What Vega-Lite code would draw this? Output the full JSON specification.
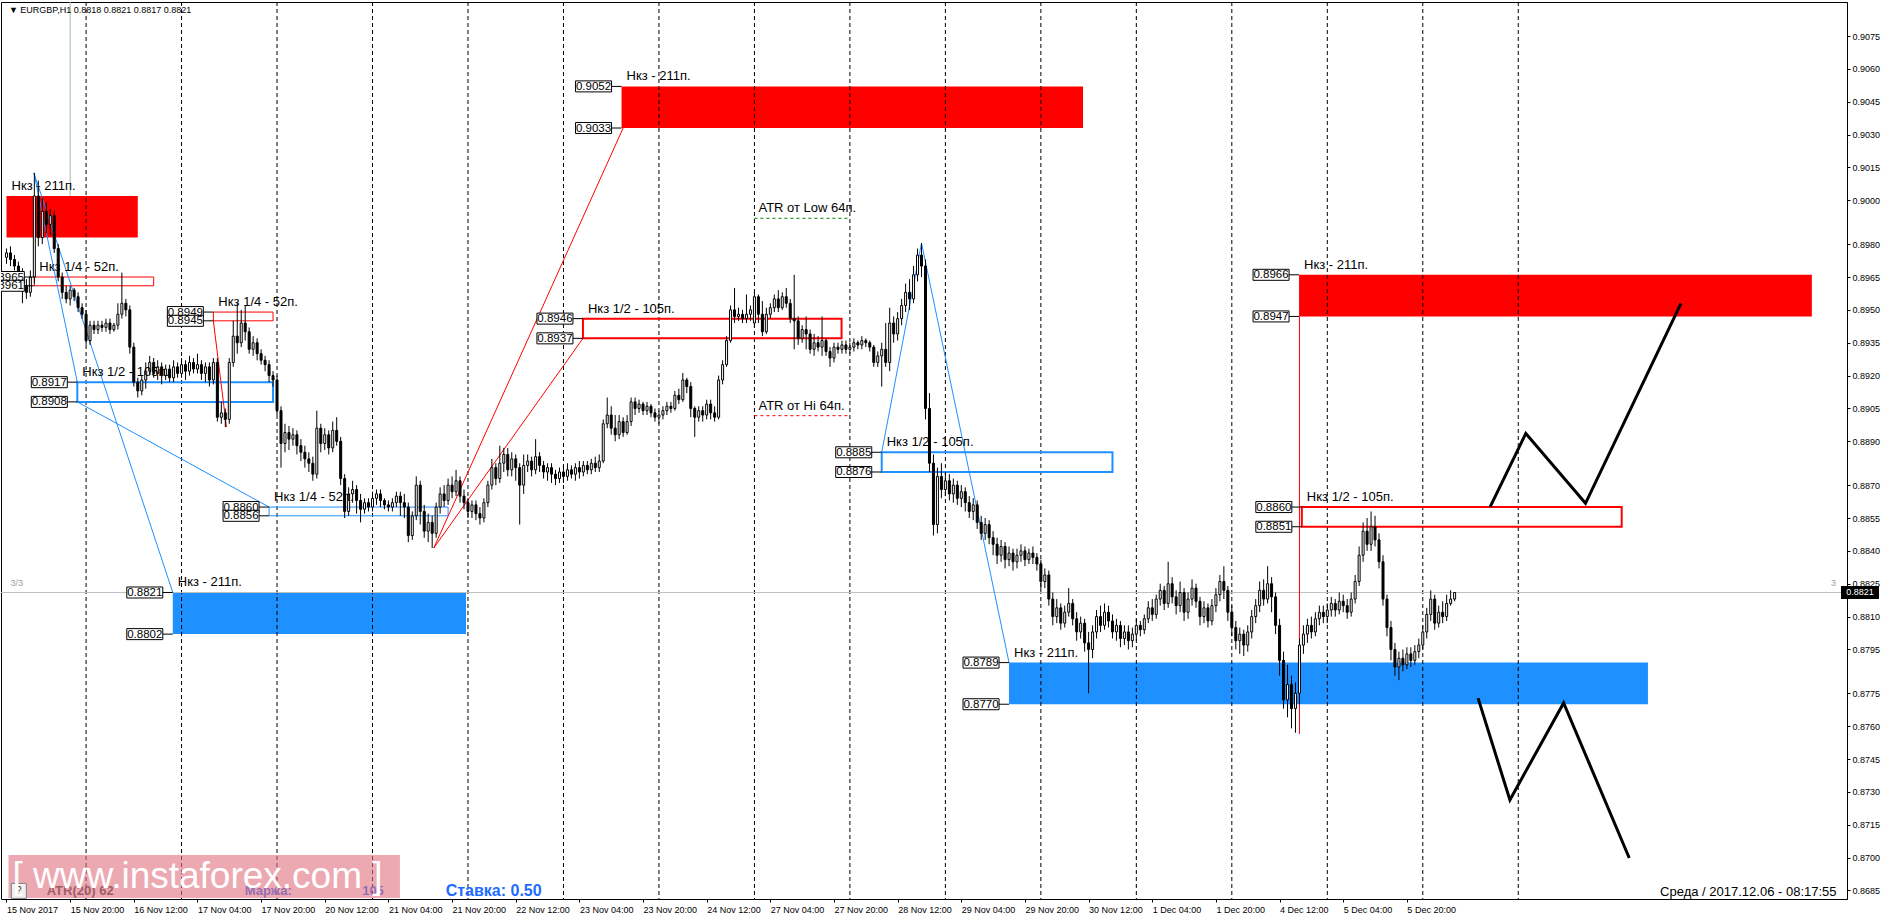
{
"$schema": "https://vega.github.io/schema/vega-lite/v6.json",
"width": 1846, "height": 897,
"autosize": {"type": "none"},
"padding": {"left": 1, "top": 2, "right": 41, "bottom": 25},
"background": "#ffffff",
"config": {"view": {"stroke": "#000000", "strokeWidth": 1}, "font": "Liberation Sans",
  "axis": {"labelColor": "#000000", "tickColor": "#000000", "domainColor": "#000000", "labelFont": "Liberation Sans", "labelFontSize": 9, "grid": false}},
"resolve": {"axis": {"x": "independent", "y": "independent"}},
"datasets": {
"candles": [
{"x":0,"o":0.8974,"h":0.8978,"l":0.8971,"c":0.8976},{"x":1,"o":0.8976,"h":0.8979,"l":0.8970,"c":0.8973},{"x":2,"o":0.8973,"h":0.8975,"l":0.8968,"c":0.8970},{"x":3,"o":0.8970,"h":0.8972,"l":0.8964,"c":0.8967},{"x":4,"o":0.8967,"h":0.8969,"l":0.8953,"c":0.8961},{"x":5,"o":0.8961,"h":0.8964,"l":0.8955,"c":0.8958},{"x":6,"o":0.8958,"h":0.8968,"l":0.8956,"c":0.8965},{"x":7,"o":0.8965,"h":0.90125,"l":0.8962,"c":0.9002},{"x":8,"o":0.9002,"h":0.9009,"l":0.8979,"c":0.8983},{"x":9,"o":0.8983,"h":0.9001,"l":0.8980,"c":0.8995},
{"x":10,"o":0.8995,"h":0.8999,"l":0.8985,"c":0.8989},{"x":11,"o":0.8989,"h":0.8996,"l":0.8984,"c":0.8993},{"x":12,"o":0.8993,"h":0.8995,"l":0.8976,"c":0.8978},{"x":13,"o":0.8978,"h":0.8980,"l":0.8963,"c":0.8965},{"x":14,"o":0.8965,"h":0.8967,"l":0.8955,"c":0.8958},{"x":15,"o":0.8958,"h":0.8961,"l":0.8953,"c":0.8955},{"x":16,"o":0.8955,"h":0.8961,"l":0.8952,"c":0.8959},{"x":17,"o":0.8959,"h":0.8960,"l":0.8954,"c":0.8956},{"x":18,"o":0.8956,"h":0.8958,"l":0.8949,"c":0.8951},{"x":19,"o":0.8951,"h":0.8953,"l":0.8946,"c":0.8948},
{"x":20,"o":0.8948,"h":0.8950,"l":0.8934,"c":0.8936},{"x":21,"o":0.8936,"h":0.8945,"l":0.8934,"c":0.8943},{"x":22,"o":0.8943,"h":0.8945,"l":0.8939,"c":0.8941},{"x":23,"o":0.8941,"h":0.8945,"l":0.8939,"c":0.8943},{"x":24,"o":0.8943,"h":0.8945,"l":0.8940,"c":0.8942},{"x":25,"o":0.8942,"h":0.8946,"l":0.8940,"c":0.8944},{"x":26,"o":0.8944,"h":0.8946,"l":0.8939,"c":0.8941},{"x":27,"o":0.8941,"h":0.8944,"l":0.8940,"c":0.8943},{"x":28,"o":0.8943,"h":0.8953,"l":0.8941,"c":0.8948},{"x":29,"o":0.8948,"h":0.8967,"l":0.8946,"c":0.8953},
{"x":30,"o":0.8953,"h":0.8955,"l":0.8947,"c":0.8950},{"x":31,"o":0.8950,"h":0.8952,"l":0.8930,"c":0.8933},{"x":32,"o":0.8933,"h":0.8935,"l":0.8915,"c":0.8917},{"x":33,"o":0.8917,"h":0.8919,"l":0.8910,"c":0.8913},{"x":34,"o":0.8913,"h":0.8920,"l":0.8911,"c":0.8918},{"x":35,"o":0.8918,"h":0.8926,"l":0.8914,"c":0.8922},{"x":36,"o":0.8922,"h":0.8929,"l":0.8920,"c":0.8926},{"x":37,"o":0.8926,"h":0.8928,"l":0.8919,"c":0.8921},{"x":38,"o":0.8921,"h":0.8927,"l":0.8918,"c":0.8924},{"x":39,"o":0.8924,"h":0.8926,"l":0.8916,"c":0.8920},
{"x":40,"o":0.8920,"h":0.8925,"l":0.8918,"c":0.8923},{"x":41,"o":0.8923,"h":0.8925,"l":0.8917,"c":0.8919},{"x":42,"o":0.8919,"h":0.8927,"l":0.8917,"c":0.8924},{"x":43,"o":0.8924,"h":0.8926,"l":0.8919,"c":0.8921},{"x":44,"o":0.8921,"h":0.8928,"l":0.8919,"c":0.8925},{"x":45,"o":0.8925,"h":0.8927,"l":0.8918,"c":0.8922},{"x":46,"o":0.8922,"h":0.8929,"l":0.8920,"c":0.8926},{"x":47,"o":0.8926,"h":0.8928,"l":0.8921,"c":0.8923},{"x":48,"o":0.8923,"h":0.8930,"l":0.8921,"c":0.8925},{"x":49,"o":0.8925,"h":0.8927,"l":0.8918,"c":0.8921},
{"x":50,"o":0.8921,"h":0.8926,"l":0.8917,"c":0.8924},{"x":51,"o":0.8924,"h":0.8926,"l":0.8915,"c":0.8918},{"x":52,"o":0.8918,"h":0.8928,"l":0.8916,"c":0.8926},{"x":53,"o":0.8926,"h":0.8928,"l":0.8899,"c":0.8901},{"x":54,"o":0.8901,"h":0.8908,"l":0.8898,"c":0.8903},{"x":55,"o":0.8903,"h":0.8905,"l":0.88965,"c":0.8900},{"x":56,"o":0.8900,"h":0.8928,"l":0.8898,"c":0.8926},{"x":57,"o":0.8926,"h":0.8945,"l":0.8924,"c":0.8938},{"x":58,"o":0.8938,"h":0.8953,"l":0.8930,"c":0.8935},{"x":59,"o":0.8935,"h":0.8950,"l":0.8933,"c":0.8944},
{"x":60,"o":0.8944,"h":0.8952,"l":0.8936,"c":0.8940},{"x":61,"o":0.8940,"h":0.8942,"l":0.8930,"c":0.8932},{"x":62,"o":0.8932,"h":0.8938,"l":0.8929,"c":0.8935},{"x":63,"o":0.8935,"h":0.8937,"l":0.8927,"c":0.8930},{"x":64,"o":0.8930,"h":0.8932,"l":0.8925,"c":0.8927},{"x":65,"o":0.8927,"h":0.8929,"l":0.8922,"c":0.8925},{"x":66,"o":0.8925,"h":0.8927,"l":0.8917,"c":0.8920},{"x":67,"o":0.8920,"h":0.8922,"l":0.8915,"c":0.8918},{"x":68,"o":0.8918,"h":0.8920,"l":0.8902,"c":0.8904},{"x":69,"o":0.8904,"h":0.8906,"l":0.8878,"c":0.8889},
{"x":70,"o":0.8889,"h":0.8898,"l":0.8885,"c":0.8894},{"x":71,"o":0.8894,"h":0.8897,"l":0.8886,"c":0.8891},{"x":72,"o":0.8891,"h":0.8896,"l":0.8888,"c":0.8893},{"x":73,"o":0.8893,"h":0.8895,"l":0.8884,"c":0.8888},{"x":74,"o":0.8888,"h":0.8891,"l":0.8881,"c":0.8885},{"x":75,"o":0.8885,"h":0.8888,"l":0.8878,"c":0.8882},{"x":76,"o":0.8882,"h":0.8885,"l":0.8876,"c":0.8880},{"x":77,"o":0.8880,"h":0.8883,"l":0.8872,"c":0.8875},{"x":78,"o":0.8875,"h":0.8904,"l":0.8873,"c":0.8896},{"x":79,"o":0.8896,"h":0.8898,"l":0.8885,"c":0.8889},
{"x":80,"o":0.8889,"h":0.8896,"l":0.8886,"c":0.8893},{"x":81,"o":0.8893,"h":0.8895,"l":0.8884,"c":0.8887},{"x":82,"o":0.8887,"h":0.8899,"l":0.8885,"c":0.8895},{"x":83,"o":0.8895,"h":0.8901,"l":0.8888,"c":0.8890},{"x":84,"o":0.8890,"h":0.8892,"l":0.8870,"c":0.8873},{"x":85,"o":0.8873,"h":0.8875,"l":0.8855,"c":0.8858},{"x":86,"o":0.8858,"h":0.8869,"l":0.8856,"c":0.8866},{"x":87,"o":0.8866,"h":0.8872,"l":0.8862,"c":0.8868},{"x":88,"o":0.8868,"h":0.8870,"l":0.8857,"c":0.8863},{"x":89,"o":0.8863,"h":0.8866,"l":0.8853,"c":0.8859},
{"x":90,"o":0.8859,"h":0.8864,"l":0.8857,"c":0.8862},{"x":91,"o":0.8862,"h":0.8864,"l":0.8858,"c":0.8860},{"x":92,"o":0.8860,"h":0.8867,"l":0.8858,"c":0.8864},{"x":93,"o":0.8864,"h":0.8868,"l":0.8861,"c":0.8866},{"x":94,"o":0.8866,"h":0.8868,"l":0.8860,"c":0.8863},{"x":95,"o":0.8863,"h":0.8864,"l":0.8859,"c":0.8861},{"x":96,"o":0.8861,"h":0.8863,"l":0.8858,"c":0.8860},{"x":97,"o":0.8860,"h":0.8864,"l":0.8858,"c":0.8862},{"x":98,"o":0.8862,"h":0.8867,"l":0.8860,"c":0.8865},{"x":99,"o":0.8865,"h":0.8867,"l":0.8856,"c":0.8862},
{"x":100,"o":0.8862,"h":0.8866,"l":0.8855,"c":0.8860},{"x":101,"o":0.8860,"h":0.8862,"l":0.8844,"c":0.8847},{"x":102,"o":0.8847,"h":0.8858,"l":0.8845,"c":0.8856},{"x":103,"o":0.8856,"h":0.8874,"l":0.8854,"c":0.8870},{"x":104,"o":0.8870,"h":0.8872,"l":0.8852,"c":0.8858},{"x":105,"o":0.8858,"h":0.8861,"l":0.8846,"c":0.8849},{"x":106,"o":0.8849,"h":0.8857,"l":0.8844,"c":0.8853},{"x":107,"o":0.8853,"h":0.8856,"l":0.88413,"c":0.8848},{"x":108,"o":0.8848,"h":0.8862,"l":0.8846,"c":0.8860},{"x":109,"o":0.8860,"h":0.8869,"l":0.8857,"c":0.8866},
{"x":110,"o":0.8866,"h":0.8870,"l":0.8860,"c":0.8863},{"x":111,"o":0.8863,"h":0.8873,"l":0.8861,"c":0.8870},{"x":112,"o":0.8870,"h":0.8874,"l":0.8864,"c":0.8867},{"x":113,"o":0.8867,"h":0.8877,"l":0.8865,"c":0.8872},{"x":114,"o":0.8872,"h":0.8874,"l":0.8862,"c":0.8865},{"x":115,"o":0.8865,"h":0.8868,"l":0.8859,"c":0.8862},{"x":116,"o":0.8862,"h":0.8864,"l":0.8855,"c":0.8858},{"x":117,"o":0.8858,"h":0.8863,"l":0.8855,"c":0.8861},{"x":118,"o":0.8861,"h":0.8863,"l":0.8854,"c":0.8857},{"x":119,"o":0.8857,"h":0.8860,"l":0.8852,"c":0.8855},
{"x":120,"o":0.8855,"h":0.8864,"l":0.8853,"c":0.8862},{"x":121,"o":0.8862,"h":0.8872,"l":0.8860,"c":0.8870},{"x":122,"o":0.8870,"h":0.8882,"l":0.8868,"c":0.8878},{"x":123,"o":0.8878,"h":0.8880,"l":0.8870,"c":0.8873},{"x":124,"o":0.8873,"h":0.8888,"l":0.8871,"c":0.8880},{"x":125,"o":0.8880,"h":0.8887,"l":0.8876,"c":0.8884},{"x":126,"o":0.8884,"h":0.8887,"l":0.8874,"c":0.8877},{"x":127,"o":0.8877,"h":0.8885,"l":0.8874,"c":0.8882},{"x":128,"o":0.8882,"h":0.8884,"l":0.8872,"c":0.8878},{"x":129,"o":0.8878,"h":0.8880,"l":0.8852,"c":0.8870},
{"x":130,"o":0.8870,"h":0.8884,"l":0.8866,"c":0.8879},{"x":131,"o":0.8879,"h":0.8884,"l":0.8876,"c":0.8881},{"x":132,"o":0.8881,"h":0.8883,"l":0.8874,"c":0.8877},{"x":133,"o":0.8877,"h":0.8891,"l":0.8875,"c":0.8883},{"x":134,"o":0.8883,"h":0.8885,"l":0.8876,"c":0.8879},{"x":135,"o":0.8879,"h":0.8881,"l":0.8873,"c":0.8876},{"x":136,"o":0.8876,"h":0.8880,"l":0.8872,"c":0.8878},{"x":137,"o":0.8878,"h":0.8880,"l":0.8871,"c":0.8875},{"x":138,"o":0.8875,"h":0.8877,"l":0.8870,"c":0.8873},{"x":139,"o":0.8873,"h":0.8878,"l":0.8871,"c":0.8876},
{"x":140,"o":0.8876,"h":0.8879,"l":0.8871,"c":0.8874},{"x":141,"o":0.8874,"h":0.8880,"l":0.8872,"c":0.8877},{"x":142,"o":0.8877,"h":0.8879,"l":0.8873,"c":0.8875},{"x":143,"o":0.8875,"h":0.8880,"l":0.8872,"c":0.8878},{"x":144,"o":0.8878,"h":0.8881,"l":0.8873,"c":0.8876},{"x":145,"o":0.8876,"h":0.8881,"l":0.8874,"c":0.8879},{"x":146,"o":0.8879,"h":0.8881,"l":0.8875,"c":0.8877},{"x":147,"o":0.8877,"h":0.8882,"l":0.8875,"c":0.8880},{"x":148,"o":0.8880,"h":0.8883,"l":0.8876,"c":0.8878},{"x":149,"o":0.8878,"h":0.8884,"l":0.8876,"c":0.8881},
{"x":150,"o":0.8881,"h":0.8900,"l":0.8880,"c":0.8898},{"x":151,"o":0.8898,"h":0.8910,"l":0.8896,"c":0.8902},{"x":152,"o":0.8902,"h":0.8906,"l":0.8893,"c":0.8896},{"x":153,"o":0.8896,"h":0.8902,"l":0.8890,"c":0.8893},{"x":154,"o":0.8893,"h":0.8902,"l":0.8891,"c":0.8899},{"x":155,"o":0.8899,"h":0.8901,"l":0.8892,"c":0.8894},{"x":156,"o":0.8894,"h":0.8902,"l":0.8893,"c":0.8899},{"x":157,"o":0.8899,"h":0.8910,"l":0.8897,"c":0.8908},{"x":158,"o":0.8908,"h":0.8910,"l":0.8902,"c":0.8905},{"x":159,"o":0.8905,"h":0.8909,"l":0.8903,"c":0.8907},
{"x":160,"o":0.8907,"h":0.8908,"l":0.8902,"c":0.8904},{"x":161,"o":0.8904,"h":0.8908,"l":0.8902,"c":0.8906},{"x":162,"o":0.8906,"h":0.8907,"l":0.8901,"c":0.8903},{"x":163,"o":0.8903,"h":0.8905,"l":0.8899,"c":0.8901},{"x":164,"o":0.8901,"h":0.8904,"l":0.8898,"c":0.8902},{"x":165,"o":0.8902,"h":0.8906,"l":0.8900,"c":0.8904},{"x":166,"o":0.8904,"h":0.8908,"l":0.8902,"c":0.8906},{"x":167,"o":0.8906,"h":0.8908,"l":0.8903,"c":0.8905},{"x":168,"o":0.8905,"h":0.8913,"l":0.8904,"c":0.8911},{"x":169,"o":0.8911,"h":0.8914,"l":0.8907,"c":0.8909},
{"x":170,"o":0.8909,"h":0.89212,"l":0.8908,"c":0.8918},{"x":171,"o":0.8918,"h":0.8919,"l":0.8912,"c":0.8915},{"x":172,"o":0.8915,"h":0.8917,"l":0.8901,"c":0.8905},{"x":173,"o":0.8905,"h":0.8906,"l":0.8892,"c":0.8901},{"x":174,"o":0.8901,"h":0.8906,"l":0.8899,"c":0.8904},{"x":175,"o":0.8904,"h":0.8906,"l":0.8899,"c":0.8902},{"x":176,"o":0.8902,"h":0.8909,"l":0.8900,"c":0.8907},{"x":177,"o":0.8907,"h":0.8909,"l":0.8900,"c":0.8903},{"x":178,"o":0.8903,"h":0.8906,"l":0.8899,"c":0.8901},{"x":179,"o":0.8901,"h":0.8920,"l":0.8900,"c":0.8918},
{"x":180,"o":0.8918,"h":0.8927,"l":0.8916,"c":0.8925},{"x":181,"o":0.8925,"h":0.8938,"l":0.8924,"c":0.8936},{"x":182,"o":0.8936,"h":0.8952,"l":0.8935,"c":0.8950},{"x":183,"o":0.8950,"h":0.8960,"l":0.8944,"c":0.8947},{"x":184,"o":0.8947,"h":0.8951,"l":0.8945,"c":0.8948},{"x":185,"o":0.8948,"h":0.8950,"l":0.8944,"c":0.8946},{"x":186,"o":0.8946,"h":0.8957,"l":0.8944,"c":0.8948},{"x":187,"o":0.8948,"h":0.8952,"l":0.8945,"c":0.8950},{"x":188,"o":0.8944,"h":0.8958,"l":0.8942,"c":0.8956},{"x":189,"o":0.8956,"h":0.8957,"l":0.8944,"c":0.8948},
{"x":190,"o":0.8948,"h":0.8954,"l":0.8938,"c":0.8940},{"x":191,"o":0.8940,"h":0.8951,"l":0.8939,"c":0.8948},{"x":192,"o":0.8948,"h":0.8953,"l":0.8946,"c":0.8951},{"x":193,"o":0.8951,"h":0.8957,"l":0.8949,"c":0.8955},{"x":194,"o":0.8955,"h":0.8959,"l":0.8949,"c":0.8951},{"x":195,"o":0.8951,"h":0.8958,"l":0.8950,"c":0.8956},{"x":196,"o":0.8956,"h":0.8960,"l":0.8951,"c":0.8953},{"x":197,"o":0.8953,"h":0.8955,"l":0.8944,"c":0.8946},{"x":198,"o":0.8946,"h":0.8966,"l":0.8932,"c":0.8945},{"x":199,"o":0.8945,"h":0.8947,"l":0.8934,"c":0.8937},
{"x":200,"o":0.8937,"h":0.8943,"l":0.8935,"c":0.8941},{"x":201,"o":0.8941,"h":0.8947,"l":0.8932,"c":0.8939},{"x":202,"o":0.8939,"h":0.8941,"l":0.8930,"c":0.8932},{"x":203,"o":0.8932,"h":0.8939,"l":0.8929,"c":0.8935},{"x":204,"o":0.8935,"h":0.8938,"l":0.8931,"c":0.8933},{"x":205,"o":0.8933,"h":0.8947,"l":0.8929,"c":0.8936},{"x":206,"o":0.8936,"h":0.8937,"l":0.8929,"c":0.8931},{"x":207,"o":0.8931,"h":0.8933,"l":0.8924,"c":0.8928},{"x":208,"o":0.8928,"h":0.8935,"l":0.8926,"c":0.8933},{"x":209,"o":0.8933,"h":0.8935,"l":0.8930,"c":0.8932},
{"x":210,"o":0.8932,"h":0.8936,"l":0.8930,"c":0.8934},{"x":211,"o":0.8934,"h":0.8936,"l":0.8930,"c":0.8932},{"x":212,"o":0.8932,"h":0.8935,"l":0.8930,"c":0.8933},{"x":213,"o":0.8933,"h":0.8937,"l":0.8931,"c":0.8935},{"x":214,"o":0.8935,"h":0.8936,"l":0.8932,"c":0.8934},{"x":215,"o":0.8934,"h":0.8938,"l":0.8932,"c":0.8936},{"x":216,"o":0.8936,"h":0.8937,"l":0.8933,"c":0.8935},{"x":217,"o":0.8935,"h":0.8936,"l":0.8931,"c":0.8933},{"x":218,"o":0.8933,"h":0.8934,"l":0.8924,"c":0.8926},{"x":219,"o":0.8926,"h":0.8931,"l":0.8924,"c":0.8929},
{"x":220,"o":0.8929,"h":0.8935,"l":0.8915,"c":0.8932},{"x":221,"o":0.8932,"h":0.8944,"l":0.8924,"c":0.8926},{"x":222,"o":0.8926,"h":0.8951,"l":0.8922,"c":0.8944},{"x":223,"o":0.8944,"h":0.8947,"l":0.8935,"c":0.8939},{"x":224,"o":0.8939,"h":0.8949,"l":0.8936,"c":0.8946},{"x":225,"o":0.8946,"h":0.8955,"l":0.8943,"c":0.8952},{"x":226,"o":0.8952,"h":0.8962,"l":0.8949,"c":0.8958},{"x":227,"o":0.8958,"h":0.8964,"l":0.8950,"c":0.8955},{"x":228,"o":0.8955,"h":0.8970,"l":0.8953,"c":0.8966},{"x":229,"o":0.8966,"h":0.8978,"l":0.8963,"c":0.8975},
{"x":230,"o":0.8975,"h":0.89805,"l":0.8965,"c":0.8970},{"x":231,"o":0.8970,"h":0.8973,"l":0.8900,"c":0.8905},{"x":232,"o":0.8905,"h":0.8912,"l":0.8876,"c":0.8880},{"x":233,"o":0.8880,"h":0.8884,"l":0.8847,"c":0.8852},{"x":234,"o":0.8852,"h":0.8878,"l":0.8848,"c":0.8874},{"x":235,"o":0.8874,"h":0.8880,"l":0.8864,"c":0.8868},{"x":236,"o":0.8868,"h":0.8876,"l":0.8865,"c":0.8872},{"x":237,"o":0.8872,"h":0.8875,"l":0.8863,"c":0.8866},{"x":238,"o":0.8866,"h":0.8873,"l":0.8862,"c":0.8870},{"x":239,"o":0.8870,"h":0.8872,"l":0.8861,"c":0.8864},
{"x":240,"o":0.8864,"h":0.8870,"l":0.8860,"c":0.8867},{"x":241,"o":0.8867,"h":0.8869,"l":0.8858,"c":0.8862},{"x":242,"o":0.8862,"h":0.8865,"l":0.8855,"c":0.8858},{"x":243,"o":0.8858,"h":0.8864,"l":0.8854,"c":0.8861},{"x":244,"o":0.8861,"h":0.8863,"l":0.8850,"c":0.8853},{"x":245,"o":0.8853,"h":0.8856,"l":0.8845,"c":0.8848},{"x":246,"o":0.8848,"h":0.8855,"l":0.8845,"c":0.8852},{"x":247,"o":0.8852,"h":0.8854,"l":0.8843,"c":0.8846},{"x":248,"o":0.8846,"h":0.8849,"l":0.8838,"c":0.8843},{"x":249,"o":0.8843,"h":0.8846,"l":0.8834,"c":0.8838},
{"x":250,"o":0.8838,"h":0.8845,"l":0.8835,"c":0.8842},{"x":251,"o":0.8842,"h":0.8844,"l":0.8832,"c":0.8836},{"x":252,"o":0.8836,"h":0.8842,"l":0.8833,"c":0.8839},{"x":253,"o":0.8839,"h":0.8841,"l":0.8831,"c":0.8835},{"x":254,"o":0.8835,"h":0.8841,"l":0.8832,"c":0.8838},{"x":255,"o":0.8838,"h":0.8843,"l":0.8835,"c":0.8840},{"x":256,"o":0.8840,"h":0.8842,"l":0.8833,"c":0.8836},{"x":257,"o":0.8836,"h":0.8841,"l":0.8834,"c":0.8839},{"x":258,"o":0.8839,"h":0.8842,"l":0.8834,"c":0.8837},{"x":259,"o":0.8837,"h":0.8839,"l":0.8831,"c":0.8834},
{"x":260,"o":0.8834,"h":0.8836,"l":0.8822,"c":0.8826},{"x":261,"o":0.8826,"h":0.8832,"l":0.8823,"c":0.8829},{"x":262,"o":0.8829,"h":0.8831,"l":0.8815,"c":0.8818},{"x":263,"o":0.8818,"h":0.8821,"l":0.8806,"c":0.8810},{"x":264,"o":0.8810,"h":0.8818,"l":0.8807,"c":0.8814},{"x":265,"o":0.8814,"h":0.8816,"l":0.8804,"c":0.8807},{"x":266,"o":0.8807,"h":0.8815,"l":0.8805,"c":0.8812},{"x":267,"o":0.8812,"h":0.8823,"l":0.8810,"c":0.8816},{"x":268,"o":0.8816,"h":0.8818,"l":0.8806,"c":0.8809},{"x":269,"o":0.8809,"h":0.8812,"l":0.8799,"c":0.8803},
{"x":270,"o":0.8803,"h":0.8810,"l":0.8800,"c":0.8807},{"x":271,"o":0.8807,"h":0.8809,"l":0.8794,"c":0.8798},{"x":272,"o":0.8798,"h":0.8803,"l":0.8775,"c":0.8795},{"x":273,"o":0.8795,"h":0.8806,"l":0.8791,"c":0.8803},{"x":274,"o":0.8803,"h":0.8813,"l":0.8800,"c":0.8810},{"x":275,"o":0.8810,"h":0.8815,"l":0.8803,"c":0.8806},{"x":276,"o":0.8806,"h":0.8816,"l":0.8804,"c":0.8812},{"x":277,"o":0.8812,"h":0.8815,"l":0.8805,"c":0.8808},{"x":278,"o":0.8808,"h":0.8811,"l":0.8800,"c":0.8803},{"x":279,"o":0.8803,"h":0.8809,"l":0.8799,"c":0.8806},
{"x":280,"o":0.8806,"h":0.8808,"l":0.8796,"c":0.8800},{"x":281,"o":0.8800,"h":0.8806,"l":0.8797,"c":0.8803},{"x":282,"o":0.8803,"h":0.8806,"l":0.8795,"c":0.8799},{"x":283,"o":0.8799,"h":0.8805,"l":0.8796,"c":0.8802},{"x":284,"o":0.8802,"h":0.8809,"l":0.8799,"c":0.8806},{"x":285,"o":0.8806,"h":0.8808,"l":0.8801,"c":0.8804},{"x":286,"o":0.8804,"h":0.8811,"l":0.8802,"c":0.8809},{"x":287,"o":0.8809,"h":0.8817,"l":0.8807,"c":0.8814},{"x":288,"o":0.8814,"h":0.8818,"l":0.8808,"c":0.8811},{"x":289,"o":0.8811,"h":0.8820,"l":0.8809,"c":0.8818},
{"x":290,"o":0.8818,"h":0.8825,"l":0.8815,"c":0.8822},{"x":291,"o":0.8822,"h":0.8824,"l":0.8813,"c":0.8816},{"x":292,"o":0.8816,"h":0.8835,"l":0.8814,"c":0.8825},{"x":293,"o":0.8825,"h":0.8828,"l":0.8816,"c":0.8819},{"x":294,"o":0.8819,"h":0.8822,"l":0.8811,"c":0.8815},{"x":295,"o":0.8815,"h":0.8826,"l":0.8812,"c":0.8821},{"x":296,"o":0.8821,"h":0.8823,"l":0.8808,"c":0.8812},{"x":297,"o":0.8812,"h":0.8821,"l":0.8809,"c":0.8818},{"x":298,"o":0.8818,"h":0.8827,"l":0.8815,"c":0.8823},{"x":299,"o":0.8823,"h":0.8825,"l":0.8814,"c":0.8817},
{"x":300,"o":0.8817,"h":0.8819,"l":0.8806,"c":0.8810},{"x":301,"o":0.8810,"h":0.8817,"l":0.8807,"c":0.8814},{"x":302,"o":0.8814,"h":0.8816,"l":0.8805,"c":0.8808},{"x":303,"o":0.8808,"h":0.8818,"l":0.8806,"c":0.8815},{"x":304,"o":0.8815,"h":0.8823,"l":0.8812,"c":0.8820},{"x":305,"o":0.8820,"h":0.8829,"l":0.8817,"c":0.8826},{"x":306,"o":0.8826,"h":0.8833,"l":0.8818,"c":0.8822},{"x":307,"o":0.8822,"h":0.8824,"l":0.8808,"c":0.8812},{"x":308,"o":0.8812,"h":0.8815,"l":0.8801,"c":0.8805},{"x":309,"o":0.8805,"h":0.8808,"l":0.8795,"c":0.8799},
{"x":310,"o":0.8799,"h":0.8805,"l":0.8793,"c":0.8802},{"x":311,"o":0.8802,"h":0.8804,"l":0.8792,"c":0.8797},{"x":312,"o":0.8797,"h":0.8806,"l":0.8794,"c":0.8803},{"x":313,"o":0.8803,"h":0.8813,"l":0.8800,"c":0.8810},{"x":314,"o":0.8810,"h":0.8818,"l":0.8807,"c":0.8815},{"x":315,"o":0.8815,"h":0.8826,"l":0.8812,"c":0.8822},{"x":316,"o":0.8822,"h":0.8827,"l":0.8815,"c":0.8818},{"x":317,"o":0.8818,"h":0.8833,"l":0.8816,"c":0.8825},{"x":318,"o":0.8825,"h":0.8828,"l":0.8812,"c":0.8819},{"x":319,"o":0.8819,"h":0.8821,"l":0.8802,"c":0.8806},
{"x":320,"o":0.8806,"h":0.8809,"l":0.8783,"c":0.8790},{"x":321,"o":0.8790,"h":0.8794,"l":0.8768,"c":0.8772},{"x":322,"o":0.8772,"h":0.8788,"l":0.8764,"c":0.8779},{"x":323,"o":0.8779,"h":0.8783,"l":0.8759,"c":0.8768},{"x":324,"o":0.8768,"h":0.8780,"l":0.8757,"c":0.8775},{"x":325,"o":0.8775,"h":0.8800,"l":0.8770,"c":0.8797},{"x":326,"o":0.8797,"h":0.8806,"l":0.8793,"c":0.8802},{"x":327,"o":0.8802,"h":0.8809,"l":0.8798,"c":0.8806},{"x":328,"o":0.8806,"h":0.8810,"l":0.8800,"c":0.8803},{"x":329,"o":0.8803,"h":0.8812,"l":0.8801,"c":0.8809},
{"x":330,"o":0.8809,"h":0.8815,"l":0.8806,"c":0.8812},{"x":331,"o":0.8812,"h":0.8815,"l":0.8807,"c":0.8810},{"x":332,"o":0.8810,"h":0.8816,"l":0.8807,"c":0.8813},{"x":333,"o":0.8813,"h":0.8819,"l":0.8810,"c":0.8816},{"x":334,"o":0.8816,"h":0.8818,"l":0.8810,"c":0.8813},{"x":335,"o":0.8813,"h":0.8821,"l":0.8811,"c":0.8817},{"x":336,"o":0.8817,"h":0.8820,"l":0.8812,"c":0.8815},{"x":337,"o":0.8815,"h":0.8818,"l":0.8809,"c":0.8812},{"x":338,"o":0.8812,"h":0.8821,"l":0.8810,"c":0.8818},{"x":339,"o":0.8818,"h":0.8829,"l":0.8816,"c":0.8826},
{"x":340,"o":0.8826,"h":0.8842,"l":0.8824,"c":0.8838},{"x":341,"o":0.8838,"h":0.8853,"l":0.8835,"c":0.8849},{"x":342,"o":0.8849,"h":0.8855,"l":0.8840,"c":0.8843},{"x":343,"o":0.8843,"h":0.8858,"l":0.8840,"c":0.8851},{"x":344,"o":0.8851,"h":0.8856,"l":0.8842,"c":0.8845},{"x":345,"o":0.8845,"h":0.8848,"l":0.8832,"c":0.8835},{"x":346,"o":0.8835,"h":0.8838,"l":0.8815,"c":0.8818},{"x":347,"o":0.8818,"h":0.8820,"l":0.8801,"c":0.8805},{"x":348,"o":0.8805,"h":0.8808,"l":0.8790,"c":0.8795},{"x":349,"o":0.8795,"h":0.8798,"l":0.8783,"c":0.8787},
{"x":350,"o":0.8787,"h":0.8794,"l":0.8781,"c":0.8791},{"x":351,"o":0.8791,"h":0.8795,"l":0.8785,"c":0.8788},{"x":352,"o":0.8788,"h":0.8796,"l":0.8786,"c":0.8793},{"x":353,"o":0.8793,"h":0.8796,"l":0.8787,"c":0.8790},{"x":354,"o":0.8790,"h":0.8797,"l":0.8788,"c":0.8794},{"x":355,"o":0.8794,"h":0.8800,"l":0.8791,"c":0.8797},{"x":356,"o":0.8797,"h":0.8806,"l":0.8795,"c":0.8803},{"x":357,"o":0.8803,"h":0.8814,"l":0.8800,"c":0.8811},{"x":358,"o":0.8811,"h":0.8822,"l":0.8808,"c":0.8818},{"x":359,"o":0.8818,"h":0.8820,"l":0.8804,"c":0.8807},
{"x":360,"o":0.8807,"h":0.8815,"l":0.8805,"c":0.8812},{"x":361,"o":0.8812,"h":0.8817,"l":0.8807,"c":0.8810},{"x":362,"o":0.8810,"h":0.8820,"l":0.8808,"c":0.8816},{"x":363,"o":0.8816,"h":0.8822,"l":0.8815,"c":0.8818},{"x":364,"o":0.8818,"h":0.8821,"l":0.8817,"c":0.8821}
],
"seps": [{"x":20},{"x":44},{"x":68},{"x":92},{"x":116},{"x":140},{"x":164},{"x":188},{"x":212},{"x":236},{"x":260},{"x":284},{"x":308},{"x":332},{"x":356},{"x":380}],
"zones": [
{"kind":"full","side":"sell","x":0,"x2":33,"top":0.9002,"bot":0.8983,"label":"Нкз - 211п."},
{"kind":"quarter","side":"sell","x":7,"x2":37,"top":0.8965,"bot":0.8961,"label":"Нкз 1/4 - 52п."},
{"kind":"quarter","side":"sell","x":52,"x2":67,"top":0.8949,"bot":0.8945,"label":"Нкз 1/4 - 52п."},
{"kind":"half","side":"buy","x":17.8,"x2":67,"top":0.8917,"bot":0.8908,"label":"Нкз 1/2 - 105п."},
{"kind":"quarter","side":"buy","x":66,"x2":111,"top":0.8860,"bot":0.8856,"label":"Нкз 1/4 - 52п."},
{"kind":"full","side":"buy","x":41.8,"x2":115.5,"top":0.8821,"bot":0.8802,"label":"Нкз - 211п."},
{"kind":"full","side":"sell","x":154.6,"x2":270.6,"top":0.9052,"bot":0.9033,"label":"Нкз - 211п."},
{"kind":"half","side":"sell","x":144.9,"x2":209.9,"top":0.8946,"bot":0.8937,"label":"Нкз 1/2 - 105п."},
{"kind":"half","side":"buy","x":220,"x2":278,"top":0.8885,"bot":0.8876,"label":"Нкз 1/2 - 105п."},
{"kind":"full","side":"buy","x":252,"x2":412.6,"top":0.8789,"bot":0.8770,"label":"Нкз - 211п."},
{"kind":"full","side":"sell","x":324.9,"x2":453.8,"top":0.8966,"bot":0.8947,"label":"Нкз - 211п."},
{"kind":"half","side":"sell","x":325.6,"x2":406,"top":0.8860,"bot":0.8851,"label":"Нкз 1/2 - 105п."}
],
"tags": [
{"x":7,"p":0.8965},{"x":7,"p":0.8961},{"x":52,"p":0.8949},{"x":52,"p":0.8945},{"x":17.8,"p":0.8917},{"x":17.8,"p":0.8908},
{"x":66,"p":0.8860},{"x":66,"p":0.8856},{"x":41.8,"p":0.8821},{"x":41.8,"p":0.8802},{"x":154.6,"p":0.9052},{"x":154.6,"p":0.9033},
{"x":144.9,"p":0.8946},{"x":144.9,"p":0.8937},{"x":220,"p":0.8885},{"x":220,"p":0.8876},{"x":252,"p":0.8789},{"x":252,"p":0.8770},
{"x":324.9,"p":0.8966},{"x":324.9,"p":0.8947},{"x":325.6,"p":0.8860},{"x":325.6,"p":0.8851}
],
"links": [
{"g":"r1","side":"sell","k":0,"x":107.4,"p":0.88413},{"g":"r1","side":"sell","k":1,"x":155,"p":0.9033},
{"g":"r2","side":"sell","k":0,"x":107.4,"p":0.88413},{"g":"r2","side":"sell","k":1,"x":144.9,"p":0.8937},
{"g":"r3","side":"sell","k":0,"x":52,"p":0.8945},{"g":"r3","side":"sell","k":1,"x":55.3,"p":0.88965},
{"g":"r4","side":"sell","k":0,"x":325,"p":0.8947},{"g":"r4","side":"sell","k":1,"x":325,"p":0.87564},
{"g":"b1","side":"buy","k":0,"x":6.9,"p":0.90125},{"g":"b1","side":"buy","k":1,"x":17.8,"p":0.8917},
{"g":"b2","side":"buy","k":0,"x":6.9,"p":0.90125},{"g":"b2","side":"buy","k":1,"x":41.8,"p":0.8821},
{"g":"b3","side":"buy","k":0,"x":17.8,"p":0.8908},{"g":"b3","side":"buy","k":1,"x":66,"p":0.8860},
{"g":"b4","side":"buy","k":0,"x":230,"p":0.89805},{"g":"b4","side":"buy","k":1,"x":220,"p":0.8885},
{"g":"b5","side":"buy","k":0,"x":230,"p":0.89805},{"g":"b5","side":"buy","k":1,"x":252,"p":0.8789}
],
"zigzag": [
{"g":"up","k":0,"x":372.9,"p":0.8860},{"g":"up","k":1,"x":381.9,"p":0.88936},{"g":"up","k":2,"x":396.9,"p":0.88617},{"g":"up","k":3,"x":420.9,"p":0.8953},
{"g":"down","k":0,"x":369.9,"p":0.87728},{"g":"down","k":1,"x":377.9,"p":0.87263},{"g":"down","k":2,"x":391.4,"p":0.87706},{"g":"down","k":3,"x":407.9,"p":0.86998}
],
"atr": [
{"name":"ATR от Low 64п.","side":"low","x":188,"x2":211.5,"p":0.89918},
{"name":"ATR от Hi 64п.","side":"hi","x":188,"x2":211.5,"p":0.89017}
],
"bid": [{"p":0.8821}],
"info": [
{"t":"ATR(20) 62","grp":"atr","x":10.1},
{"t":"Маржа:","grp":"margin","x":59.9},
{"t":"105","grp":"margin","x":89.4}
]
},
"layer": [
{"data":{"name":"zones"},"transform":[{"filter":"datum.kind === 'full'"}],
 "mark":{"type":"rect","clip":true},
 "encoding":{
  "x":{"field":"x","type":"quantitative","scale":{"domain":[-0.125,461.375],"nice":false,"zero":false},
   "axis":{"orient":"bottom","title":null,"values":[0,16,32,48,64,80,96,112,128,144,160,176,192,208,224,240,256,272,288,304,320,336,352],
    "labelExpr":"['15 Nov 2017','15 Nov 20:00','16 Nov 12:00','17 Nov 04:00','17 Nov 20:00','20 Nov 12:00','21 Nov 04:00','21 Nov 20:00','22 Nov 12:00','23 Nov 04:00','23 Nov 20:00','24 Nov 12:00','27 Nov 04:00','27 Nov 20:00','28 Nov 12:00','29 Nov 04:00','29 Nov 20:00','30 Nov 12:00','1 Dec 04:00','1 Dec 20:00','4 Dec 12:00','5 Dec 04:00','5 Dec 20:00'][round(datum.value/16)]",
    "labelAlign":"left","labelBaseline":"top","labelPadding":3,"tickSize":3,"domain":false,"labelOverlap":false,"grid":false}},
  "x2":{"field":"x2"},
  "y":{"field":"top","type":"quantitative","scale":{"domain":[0.86811,0.909052],"nice":false,"zero":false},
   "axis":{"orient":"right","title":null,"values":[0.9075,0.906,0.9045,0.903,0.9015,0.9,0.898,0.8965,0.895,0.8935,0.892,0.8905,0.889,0.887,0.8855,0.884,0.8825,0.881,0.8795,0.8775,0.876,0.8745,0.873,0.8715,0.87,0.8685],
    "format":".4f","tickSize":3,"labelPadding":2,"domain":true,"labelOverlap":false,"grid":false}},
  "y2":{"field":"bot"},
  "fill":{"field":"side","type":"nominal","scale":{"domain":["sell","buy"],"range":["#FF0000","#1E90FF"]},"legend":null}}},
{"data":{"name":"seps"},"mark":{"type":"rule","stroke":"#000000","strokeWidth":1,"strokeDash":[4,3]},
 "encoding":{"x":{"field":"x","type":"quantitative","axis":null}}},
{"data":{"values":[{"x":16,"p":0.9002,"p2":0.909052}]},"mark":{"type":"rule","stroke":"#9DBF9D","strokeWidth":1},
 "encoding":{"x":{"field":"x","type":"quantitative","axis":null},
  "y":{"field":"p","type":"quantitative","axis":null},"y2":{"field":"p2"}}},
{"data":{"name":"bid"},"mark":{"type":"rule","stroke":"#C0C0C0","strokeWidth":1},
 "encoding":{"y":{"field":"p","type":"quantitative","axis":null}}},
{"data":{"name":"zones"},"transform":[{"filter":"datum.kind !== 'full'"}],
 "mark":{"type":"rect","clip":true,"fillOpacity":0},
 "encoding":{
  "x":{"field":"x","type":"quantitative","axis":null},
  "x2":{"field":"x2"},
  "y":{"field":"top","type":"quantitative","axis":null},
  "y2":{"field":"bot"},
  "stroke":{"field":"side","type":"nominal","scale":{"domain":["sell","buy"],"range":["#FF0000","#1E90FF"]},"legend":null},
  "strokeWidth":{"field":"kind","type":"nominal","scale":{"domain":["half","quarter"],"range":[2,1]},"legend":null}}},
{"data":{"name":"links"},"mark":{"type":"line","strokeWidth":1,"clip":true},
 "encoding":{
  "x":{"field":"x","type":"quantitative","axis":null},
  "y":{"field":"p","type":"quantitative","axis":null},
  "detail":{"field":"g","type":"nominal"},"order":{"field":"k","type":"quantitative"},
  "color":{"field":"side","type":"nominal","scale":{"domain":["sell","buy"],"range":["#FF0000","#1E90FF"]},"legend":null}}},
{"data":{"name":"atr"},"transform":[{"filter":"datum.side === 'low'"}],"mark":{"type":"rule","strokeWidth":1,"strokeDash":[3,3],"stroke":"#008000"},
 "encoding":{
  "x":{"field":"x","type":"quantitative","axis":null},
  "x2":{"field":"x2"},
  "y":{"field":"p","type":"quantitative","axis":null}}},
{"data":{"name":"atr"},"transform":[{"filter":"datum.side === 'hi'"}],"mark":{"type":"rule","strokeWidth":1,"strokeDash":[3,3],"stroke":"#FF0000"},
 "encoding":{
  "x":{"field":"x","type":"quantitative","axis":null},
  "x2":{"field":"x2"},
  "y":{"field":"p","type":"quantitative","axis":null}}},
{"data":{"name":"atr"},"mark":{"type":"text","align":"left","baseline":"middle","dx":4,"dy":-10,"fontSize":13,"font":"Liberation Sans","color":"#000000"},
 "encoding":{
  "x":{"field":"x","type":"quantitative","axis":null},
  "y":{"field":"p","type":"quantitative","axis":null},
  "text":{"field":"name"}}},
{"data":{"name":"candles"},"mark":{"type":"rule","stroke":"#000000","strokeWidth":1,"clip":true},
 "encoding":{
  "x":{"field":"x","type":"quantitative","axis":null},
  "y":{"field":"l","type":"quantitative","axis":null},
  "y2":{"field":"h"}}},
{"data":{"name":"candles"},"mark":{"type":"bar","width":2,"stroke":"#000000","strokeWidth":1,"clip":true},
 "encoding":{
  "x":{"field":"x","type":"quantitative","axis":null},
  "y":{"field":"o","type":"quantitative","axis":null},
  "y2":{"field":"c"},
  "fill":{"condition":{"test":"datum.c >= datum.o","value":"#FFFFFF"},"value":"#000000"}}},
{"data":{"name":"zigzag"},"mark":{"type":"line","strokeWidth":3,"color":"#000000","clip":true},
 "encoding":{
  "x":{"field":"x","type":"quantitative","axis":null},
  "y":{"field":"p","type":"quantitative","axis":null},
  "detail":{"field":"g","type":"nominal"},"order":{"field":"k","type":"quantitative"}}},
{"data":{"name":"tags"},"mark":{"type":"point","shape":"M-2.556,-0.306H-0.556V0.306H-2.556Z M-0.556,0H0","size":1296,"filled":true,"fill":"#FFFFFF","stroke":"#000000","strokeWidth":1,"opacity":1,"clip":true},
 "encoding":{
  "x":{"field":"x","type":"quantitative","axis":null},
  "y":{"field":"p","type":"quantitative","axis":null}}},
{"data":{"name":"tags"},"mark":{"type":"text","align":"center","baseline":"middle","dx":-28,"dy":0.5,"fontSize":11.5,"font":"Liberation Sans","color":"#000000","clip":true},
 "encoding":{
  "x":{"field":"x","type":"quantitative","axis":null},
  "y":{"field":"p","type":"quantitative","axis":null},
  "text":{"field":"p","type":"quantitative","format":".4f"}}},
{"data":{"name":"zones"},"mark":{"type":"text","align":"left","baseline":"middle","dx":5,"dy":-10,"fontSize":13,"font":"Liberation Sans","color":"#000000","clip":true},
 "encoding":{
  "x":{"field":"x","type":"quantitative","axis":null},
  "y":{"field":"top","type":"quantitative","axis":null},
  "text":{"field":"label"}}},
{"data":{"name":"bid"},"mark":{"type":"point","shape":"M0,-0.306H2V0.306H0Z","size":1296,"filled":true,"fill":"#000000","stroke":"#000000","opacity":1},
 "encoding":{
  "x":{"datum":461.375,"type":"quantitative","axis":null},
  "y":{"field":"p","type":"quantitative","axis":null}}},
{"data":{"name":"bid"},"mark":{"type":"text","align":"center","baseline":"middle","dx":18,"fontSize":9,"font":"Liberation Sans","color":"#FFFFFF"},
 "encoding":{
  "x":{"datum":461.375,"type":"quantitative","axis":null},
  "y":{"field":"p","type":"quantitative","axis":null},
  "text":{"field":"p","type":"quantitative","format":".4f"}}},
{"data":{"name":"bid"},"mark":{"type":"text","align":"left","baseline":"middle","dx":4,"dy":-9,"fontSize":9,"font":"Liberation Sans","color":"#A0A0A0","text":"3/3"},
 "encoding":{
  "x":{"datum":0,"type":"quantitative","axis":null},
  "y":{"field":"p","type":"quantitative","axis":null}}},
{"data":{"name":"bid"},"mark":{"type":"text","align":"right","baseline":"middle","dx":-6,"dy":-9,"fontSize":9,"font":"Liberation Sans","color":"#A0A0A0","text":"3"},
 "encoding":{
  "x":{"datum":461.375,"type":"quantitative","axis":null},
  "y":{"field":"p","type":"quantitative","axis":null}}},
{"data":{"values":[{"t":"▼ EURGBP,H1  0.8818 0.8821 0.8817 0.8821"}]},"mark":{"type":"text","align":"left","baseline":"middle","fontSize":9,"font":"Liberation Sans","color":"#000000"},
 "encoding":{
  "x":{"datum":0.6,"type":"quantitative","axis":null},
  "y":{"datum":0.90869,"type":"quantitative","axis":null},
  "text":{"field":"t"}}},
{"data":{"values":[{"t":"Среда / 2017.12.06 - 08:17:55"}]},"mark":{"type":"text","align":"right","baseline":"middle","fontSize":13,"font":"Liberation Sans","color":"#000000"},
 "encoding":{
  "x":{"datum":460,"type":"quantitative","axis":null},
  "y":{"datum":0.86845,"type":"quantitative","axis":null},
  "text":{"field":"t"}}},
{"data":{"name":"info"},"transform":[{"filter":"datum.grp === 'atr'"}],"mark":{"type":"text","align":"left","baseline":"middle","fontSize":13,"fontWeight":"bold","font":"Liberation Sans","color":"#404040"},
 "encoding":{
  "x":{"field":"x","type":"quantitative","axis":null},
  "y":{"datum":0.86848,"type":"quantitative","axis":null},
  "text":{"field":"t"}}},
{"data":{"name":"info"},"transform":[{"filter":"datum.grp === 'margin'"}],"mark":{"type":"text","align":"left","baseline":"middle","fontSize":13,"fontWeight":"bold","font":"Liberation Sans","color":"#1E6BFF"},
 "encoding":{
  "x":{"field":"x","type":"quantitative","axis":null},
  "y":{"datum":0.86848,"type":"quantitative","axis":null},
  "text":{"field":"t"}}},
{"data":{"values":[{"t":"Ставка: 0.50"}]},"mark":{"type":"text","align":"left","baseline":"middle","fontSize":16,"fontWeight":"bold","font":"Liberation Sans","color":"#1E6BFF"},
 "encoding":{
  "x":{"datum":110.4,"type":"quantitative","axis":null},
  "y":{"datum":0.86848,"type":"quantitative","axis":null},
  "text":{"field":"t"}}},
{"data":{"values":[{"t":"[ www.instaforex.com ]"}]},"mark":{"type":"rect","color":"#E0707F","opacity":0.6},
 "encoding":{
  "x":{"datum":0.5,"type":"quantitative","axis":null},
  "x2":{"datum":98.9},
  "y":{"datum":0.87012,"type":"quantitative","axis":null},
  "y2":{"datum":0.86815}}},
{"data":{"values":[{"t":"?"}]},"mark":{"type":"point","shape":"square","size":225,"filled":true,"fill":"#F0F0F0","stroke":"#808080","strokeWidth":1,"opacity":1},
 "encoding":{
  "x":{"datum":3.1,"type":"quantitative","axis":null},
  "y":{"datum":0.86848,"type":"quantitative","axis":null}}},
{"data":{"values":[{"t":"?"}]},"mark":{"type":"text","align":"center","baseline":"middle","fontSize":10,"font":"Liberation Sans","color":"#404040"},
 "encoding":{
  "x":{"datum":3.1,"type":"quantitative","axis":null},
  "y":{"datum":0.86848,"type":"quantitative","axis":null},
  "text":{"field":"t"}}},
{"data":{"values":[{"t":"[ www.instaforex.com ]"}]},"mark":{"type":"text","align":"left","baseline":"middle","fontSize":37,"font":"Liberation Sans","color":"#FFFFFF"},
 "encoding":{
  "x":{"datum":1.5,"type":"quantitative","axis":null},
  "y":{"datum":0.86912,"type":"quantitative","axis":null},
  "text":{"field":"t"}}}
]
}
